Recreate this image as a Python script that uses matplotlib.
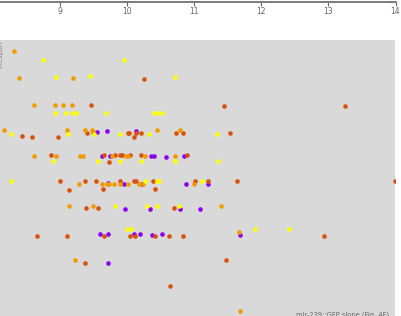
import matplotlib
matplotlib.use("Agg")
import matplotlib.pyplot as plt

# ---- data (x: slope, y: arbitrary row value) ----
yellow_x = [8.74, 9.96, 8.94, 9.44, 10.72, 8.92, 9.09, 9.19, 9.24, 9.69, 10.40, 10.45, 10.52,
            8.27, 9.12, 9.51, 9.89, 10.33, 11.34, 8.90, 9.56, 9.90, 10.20, 10.72, 11.36,
            8.27, 10.27, 10.45, 10.47, 11.11, 9.82, 10.30, 10.45, 10.78, 10.00, 10.06, 11.90, 12.42]
yellow_y = [25.6, 25.6, 23.9, 24.0, 23.9, 20.3, 20.3, 20.3, 20.3, 20.3, 20.3, 20.3, 20.3,
            18.2, 18.2, 18.2, 18.2, 18.2, 18.2, 15.5, 15.5, 15.5, 15.5, 15.5, 15.5,
            13.5, 13.5, 13.5, 13.5, 13.5, 11.0, 11.0, 11.0, 11.0, 8.7, 8.7, 8.7, 8.7]

orange_x = [8.32, 8.39, 9.20, 8.62, 8.92, 9.05, 9.18, 8.17, 9.10, 9.38, 9.48, 10.45, 10.79,
            8.62, 8.94, 9.30, 9.35, 9.78, 9.99, 10.02, 10.26, 10.72,
            9.29, 9.63, 9.70, 9.73, 9.80, 9.90, 10.02, 10.18, 10.24, 10.99,
            9.14, 9.49, 11.40, 11.67, 9.22, 11.69]
orange_y = [26.5, 23.8, 23.8, 21.1, 21.1, 21.1, 21.1, 18.6, 18.6, 18.6, 18.6, 18.6, 18.6,
            16.0, 16.0, 16.0, 16.0, 16.0, 16.0, 16.0, 16.0, 16.0,
            13.2, 13.2, 13.2, 13.2, 13.2, 13.2, 13.2, 13.2, 13.2, 13.2,
            11.0, 11.0, 11.0, 8.4, 5.6, 0.5]

dark_x = [10.25, 9.46, 11.45, 13.24, 8.43, 8.59, 8.97, 9.40, 9.49, 10.01, 10.03, 10.14, 10.20,
          10.11, 10.73, 10.84, 11.53, 8.87, 9.65, 9.73, 9.82, 9.89, 9.92, 10.05, 10.20, 10.89,
          9.00, 9.13, 9.38, 9.53, 9.64, 9.90, 10.11, 10.14, 10.39, 10.42, 11.01, 11.20, 11.64, 13.99,
          9.39, 9.56, 10.70, 8.65, 9.11, 9.66, 10.04, 10.12, 10.41, 10.63, 10.83, 12.93,
          9.38, 11.47, 10.64]
dark_y = [23.7, 21.1, 21.0, 21.0, 18.0, 17.9, 17.9, 18.3, 18.4, 18.3, 18.3, 18.3, 18.3,
          17.9, 18.3, 18.3, 18.3, 16.1, 16.1, 15.4, 16.1, 16.1, 16.1, 16.1, 16.1, 16.1,
          13.5, 12.6, 13.5, 13.5, 12.7, 13.5, 13.5, 13.5, 13.5, 12.7, 13.5, 13.5, 13.5, 13.5,
          10.8, 10.8, 10.8, 8.0, 8.0, 8.0, 8.0, 8.0, 8.0, 8.0, 8.0, 8.0,
          5.3, 5.6, 3.0]

purple_x = [9.55, 9.70, 10.13, 9.63, 9.74, 10.35, 10.40, 10.58, 10.85,
            9.72, 9.95, 10.22, 10.88, 11.21, 9.97, 10.34, 10.79, 11.09,
            9.60, 9.71, 10.11, 10.19, 10.37, 10.52, 11.69, 9.71]
purple_y = [18.4, 18.5, 18.5, 16.0, 16.0, 16.0, 16.0, 15.9, 16.0,
            13.3, 13.2, 13.2, 13.2, 13.2, 10.7, 10.7, 10.7, 10.7,
            8.2, 8.2, 8.2, 8.2, 8.1, 8.2, 8.1, 5.3]

xticks = [9, 10, 11, 12, 13, 14]
x_title = "mir-239::GFP slope (Fig. 4F)"
y_title = "lifespan"

W, H = 402, 316
fig = plt.figure(figsize=(W / 100, H / 100), dpi=100)
fig.patch.set_facecolor("white")

xmin, xmax = 8.106, 14.0
panel_w = 395.5 / W

# upper (cut-off) panel: only its bottom axis is visible
ax_top = fig.add_axes([0, 1 - 1.5 / H, panel_w, 0.2])
ax_top.set_xlim(xmin, xmax)
ax_top.set_facecolor("none")
for s in ["top", "left", "right"]:
    ax_top.spines[s].set_visible(False)
ax_top.spines["bottom"].set_color("#666666")
ax_top.spines["bottom"].set_linewidth(1.2)
ax_top.set_yticks([])
ax_top.set_xticks(xticks)
ax_top.set_xticklabels([str(t) for t in xticks])
ax_top.tick_params(axis="x", direction="out", length=3, width=0.8, color="#666666",
                   labelcolor="#666666", labelsize=5.5, pad=1.2)

# main gray panel
ax = fig.add_axes([0, 0, panel_w, 1 - 40 / H])
ax.set_facecolor("#d9d9d9")
ax.set_xlim(xmin, xmax)
ax.set_ylim(0, 27.6)
for s in ax.spines.values():
    s.set_visible(False)
ax.set_xticks([])
ax.set_yticks([])

ms = 11
ax.scatter(purple_x, purple_y, s=ms, color="#8a00f0", linewidths=0, zorder=2)
ax.scatter(dark_x, dark_y, s=ms, color="#d9520c", linewidths=0, zorder=3)
ax.scatter(orange_x, orange_y, s=ms, color="#f09a00", linewidths=0, zorder=4)
ax.scatter(yellow_x, yellow_y, s=ms, color="#ffff00", linewidths=0, zorder=5)

fig.text(389 / W, 1 - 311.5 / H, x_title, ha="right", va="top", fontsize=4.9, color="#666666")
fig.text(3 / W, 1 - 40 / H, y_title, ha="right", va="top", rotation=90, fontsize=5,
         color="#888888")

fig.savefig("out.png", dpi=100)
